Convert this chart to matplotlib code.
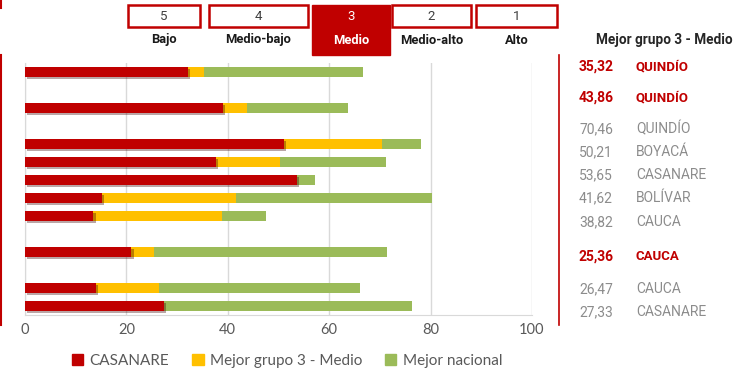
import matplotlib
matplotlib.use('Agg')
import matplotlib.pyplot as plt
import matplotlib.patheffects as pe
from matplotlib.patches import Rectangle, Patch
from matplotlib.lines import Line2D

# Valores por fila (CASANARE, mejor del grupo 3 y mejor nacional)
posiciones = [0, 2, 4, 5, 6, 7, 8, 10, 12, 13]
casanare = [32.2, 39.1, 51.1, 37.7, 53.65, 15.2, 13.5, 21.0, 14.0, 27.33]
grupo3 = [35.32, 43.86, 70.46, 50.21, 53.65, 41.62, 38.82, 25.36, 26.47, 27.33]
nacional = [66.7, 63.7, 78.2, 71.2, 57.2, 80.2, 47.5, 71.4, 66.1, 76.3]
dptos_grupo3 = ['QUINDÍO', 'QUINDÍO', 'QUINDÍO', 'BOYACÁ', 'CASANARE',
                'BOLÍVAR', 'CAUCA', 'CAUCA', 'CAUCA', 'CASANARE']
destacado = [True, True, False, False, False, False, False, True, False, False]

niveles = ['5', '4', '3', '2', '1']
nombres_nivel = ['Bajo', 'Medio-bajo', 'Medio', 'Medio-alto', 'Alto']

ROJO = '#C00000'
AMARILLO = '#FFC000'
VERDE = '#9BBB59'
GRIS = '#8C8C8C'
FUENTE = 'Roboto'

W, H = 737, 371
fig = plt.figure(figsize=(W / 100, H / 100), dpi=100)
ax = fig.add_axes([25 / W, 1 - 315 / H, (532 - 25) / W, (315 - 63) / H])

alto = 0.56
ax.barh(posiciones, nacional, height=alto, color=VERDE, zorder=2)
ax.barh(posiciones, grupo3, height=alto, color=AMARILLO, zorder=3)
rojas = ax.barh(posiciones, casanare, height=alto, color=ROJO, zorder=4)
for b in rojas:
    b.set_path_effects([pe.SimplePatchShadow(offset=(1.5, -1.5), alpha=0.35),
                        pe.Normal()])

ax.set_xlim(0, 100)
ax.set_ylim(13.5, -0.5)
ax.set_xticks([0, 20, 40, 60, 80, 100])
ax.set_yticks([])
ax.grid(axis='x', color='#D9D9D9', linewidth=1, zorder=0)
for s in ['top', 'right']:
    ax.spines[s].set_visible(False)
ax.spines['left'].set_color('#D9D9D9')
ax.spines['bottom'].set_color('#D9D9D9')
ax.tick_params(axis='x', length=0, pad=6, labelsize=10.5, labelcolor='#595959')
for t in ax.get_xticklabels():
    t.set_family('Lato')

# cabecera con los niveles
cajas = [(128, 200), (209, 308), (312, 390), (392, 471), (476, 557)]
for (x0, x1), num, nom in zip(cajas, niveles, nombres_nivel):
    cx = (x0 + x1) / 2 / W
    if num == '3':
        fig.patches.append(Rectangle((x0 / W, 1 - 55 / H), (x1 - x0) / W, 50 / H,
                                     transform=fig.transFigure, color=ROJO))
        col_num, col_nom = 'white', 'white'
    else:
        fig.patches.append(Rectangle((x0 / W, 1 - 27 / H), (x1 - x0) / W, 22 / H,
                                     transform=fig.transFigure, facecolor='white',
                                     edgecolor=ROJO, linewidth=1.8))
        col_num, col_nom = '#404040', '#1A1A1A'
    fig.text(cx, 1 - 16 / H, num, ha='center', va='center', color=col_num,
             fontsize=9.5, family=FUENTE)
    fig.text(cx, 1 - 40 / H, nom, ha='center', va='center', color=col_nom,
             fontsize=9.3, family=FUENTE, weight='bold')

fig.text(664 / W, 1 - 40 / H, 'Mejor grupo 3 - Medio', ha='center', va='center',
         color='#262626', fontsize=9.8, family=FUENTE, weight='bold')

# lineas rojas laterales
fig.add_artist(Line2D([1.5 / W, 1.5 / W], [1 - 55 / H, 1 - 325 / H], color=ROJO, lw=1.5))
fig.add_artist(Line2D([1.5 / W, 1.5 / W], [1, 1 - 8 / H], color=ROJO, lw=1.5))
fig.add_artist(Line2D([559 / W, 559 / W], [1 - 55 / H, 1 - 325 / H], color=ROJO, lw=1.2))

# tabla de la derecha
y_textos = [67, 98, 129, 152, 175, 198, 222, 257, 289, 312]
for y, v, d, dest in zip(y_textos, grupo3, dptos_grupo3, destacado):
    col = ROJO if dest else GRIS
    peso = 'bold' if dest else 'normal'
    txt = f'{v:.2f}'.replace('.', ',')
    fig.text(596 / W, 1 - y / H, txt, ha='center', va='center', color=col,
             fontsize=10, family=FUENTE, weight=peso)
    fig.text(636 / W, 1 - y / H, d, ha='left', va='center', color=col,
             fontsize=10 if not dest else 9.5, family=FUENTE, weight=peso)

handles = [Patch(color=ROJO, label='CASANARE'),
           Patch(color=AMARILLO, label='Mejor grupo 3 - Medio'),
           Patch(color=VERDE, label='Mejor nacional')]
fig.legend(handles=handles, loc='center', bbox_to_anchor=(287 / W, 1 - 361 / H),
           ncol=3, frameon=False, handlelength=0.75, handleheight=0.75,
           handletextpad=0.4, columnspacing=1.5,
           prop={'family': 'Lato', 'size': 11}, labelcolor='#595959')

fig.savefig('out.png', dpi=100)
